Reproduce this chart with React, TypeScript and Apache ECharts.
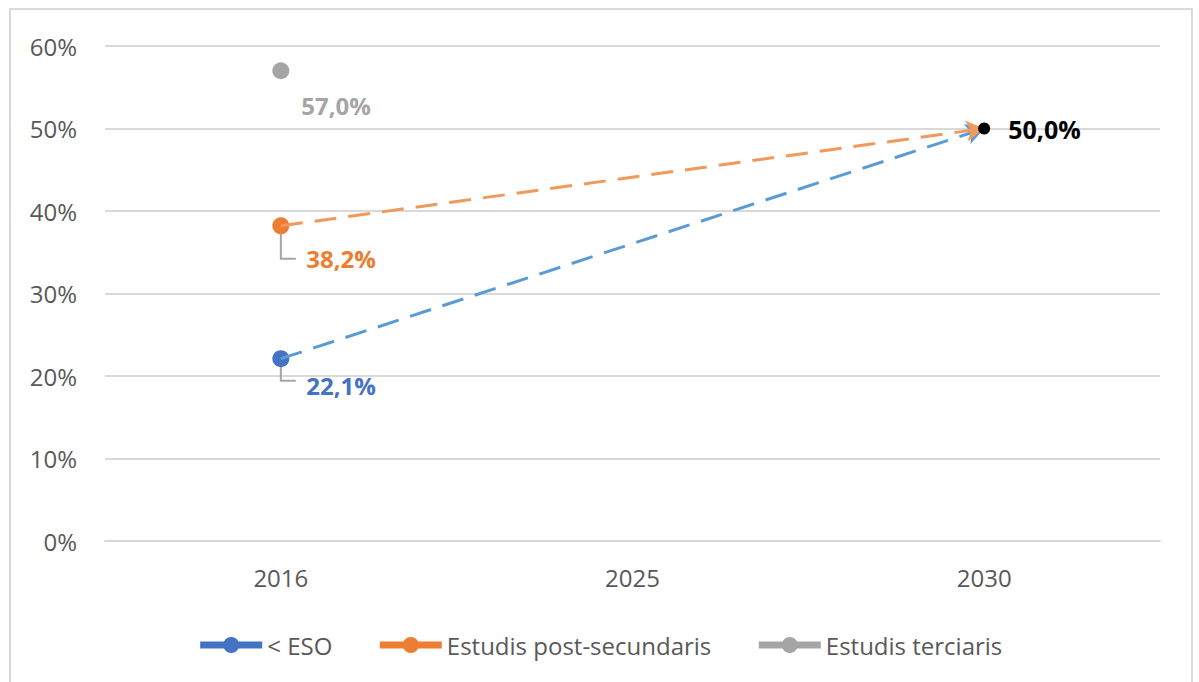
import React, { useEffect, useRef } from "react";
import * as echarts from "echarts";

const years = ["2016", "2025", "2030"];
const esoValues = [22.1, null, null];
const postValues = [38.2, null, null];
const terciarisValues = [57.0, null, null];
const targetValues = [null, null, 50.0];
const yTicks = { min: 0, max: 60, interval: 10 };
const seriesNames = ["< ESO", "Estudis post-secundaris", "Estudis terciaris"];

const fmt = (v: number) => v.toFixed(1).replace(".", ",") + "%";

export default function App() {
  const ref = useRef<HTMLDivElement>(null);
  useEffect(() => {
    if (!ref.current) return;
    const chart = echarts.init(ref.current, null, { renderer: "svg" });
    const font = "'Open Sans', sans-serif";
    const pointLabel = (color: string, dy: number, dx: number, size = 24) => ({
      show: true,
      position: "right" as const,
      distance: dx,
      offset: [0, dy],
      color,
      fontFamily: font,
      fontSize: size,
      fontWeight: "bold" as const,
      formatter: (p: any) => fmt(p.value),
    });
    const arrowLine = (from: number, color: string) => ({
      silent: true,
      symbol: ["none", "arrow"],
      symbolSize: [16, 18],
      label: { show: false },
      itemStyle: { color },
      lineStyle: { type: [22, 12], color, width: 3 },
      data: [[{ coord: [years[0], from] }, { coord: [years[2], targetValues[2]] }]],
    });
    const option: any = {
      animation: false,
      backgroundColor: "#ffffff",
      grid: { left: 105, right: 39, top: 46, bottom: 141 },
      xAxis: {
        type: "category",
        data: years,
        boundaryGap: true,
        axisLine: { show: true, lineStyle: { color: "#D9D9D9", width: 2 } },
        axisTick: { show: false },
        axisLabel: { color: "#595959", fontFamily: font, fontSize: 24, margin: 24 },
      },
      yAxis: {
        type: "value",
        min: yTicks.min,
        max: yTicks.max,
        interval: yTicks.interval,
        axisLine: { show: false },
        axisTick: { show: false },
        splitLine: { lineStyle: { color: "#D9D9D9", width: 2 } },
        axisLabel: {
          color: "#595959",
          fontFamily: font,
          fontSize: 24,
          margin: 28,
          formatter: "{value}%",
        },
      },
      legend: {
        data: seriesNames,
        bottom: 20,
        left: "center",
        itemWidth: 62,
        itemHeight: 20,
        itemGap: 44,
        lineStyle: { width: 7 },
        textStyle: { color: "#595959", fontFamily: font, fontSize: 24 },
      },
      series: [
        {
          name: seriesNames[0],
          type: "line",
          data: esoValues,
          symbol: "circle",
          symbolSize: 17,
          itemStyle: { color: "#4472C4" },
          lineStyle: { color: "#4472C4", width: 7 },
          label: pointLabel("#4472C4", 27, 17),
          markLine: arrowLine(esoValues[0] as number, "#5B9BD5"),
        },
        {
          name: seriesNames[1],
          type: "line",
          data: postValues,
          symbol: "circle",
          symbolSize: 17,
          itemStyle: { color: "#ED7D31" },
          lineStyle: { color: "#ED7D31", width: 7 },
          label: pointLabel("#ED7D31", 33, 17),
          markLine: arrowLine(postValues[0] as number, "#F0995A"),
        },
        {
          name: seriesNames[2],
          type: "line",
          data: terciarisValues,
          symbol: "circle",
          symbolSize: 17,
          itemStyle: { color: "#A5A5A5" },
          lineStyle: { color: "#A5A5A5", width: 7 },
          label: pointLabel("#A5A5A5", 35, 12),
        },
        {
          name: "Objectiu 2030",
          type: "line",
          data: targetValues,
          symbol: "circle",
          symbolSize: 12,
          itemStyle: { color: "#000000" },
          lineStyle: { width: 0 },
          label: pointLabel("#000000", 0, 18, 25),
          z: 5,
        },
      ],
    };
    chart.setOption(option);

    const leaders: any[] = [];
    const addLeader = (v: number, dy: number) => {
      const p = chart.convertToPixel({ gridIndex: 0 }, [0, v]) as number[];
      leaders.push({
        type: "polyline",
        shape: { points: [[p[0], p[1] + 8], [p[0], p[1] + dy], [p[0] + 15, p[1] + dy]] },
        style: { stroke: "#A5A5A5", lineWidth: 2, fill: "none" },
        z: 1,
      });
    };
    addLeader(postValues[0] as number, 33);
    addLeader(esoValues[0] as number, 22);
    chart.setOption({
      graphic: [
        {
          type: "rect",
          shape: { x: 10, y: 9, width: 1182, height: 700 },
          style: { stroke: "#D9D9D9", lineWidth: 2, fill: "none" },
          silent: true,
        },
        ...leaders,
      ],
    });
    return () => chart.dispose();
  }, []);
  return (
    <div
      ref={ref}
      style={{ position: "fixed", left: 0, top: 0, width: 1199, height: 682 }}
    />
  );
}
